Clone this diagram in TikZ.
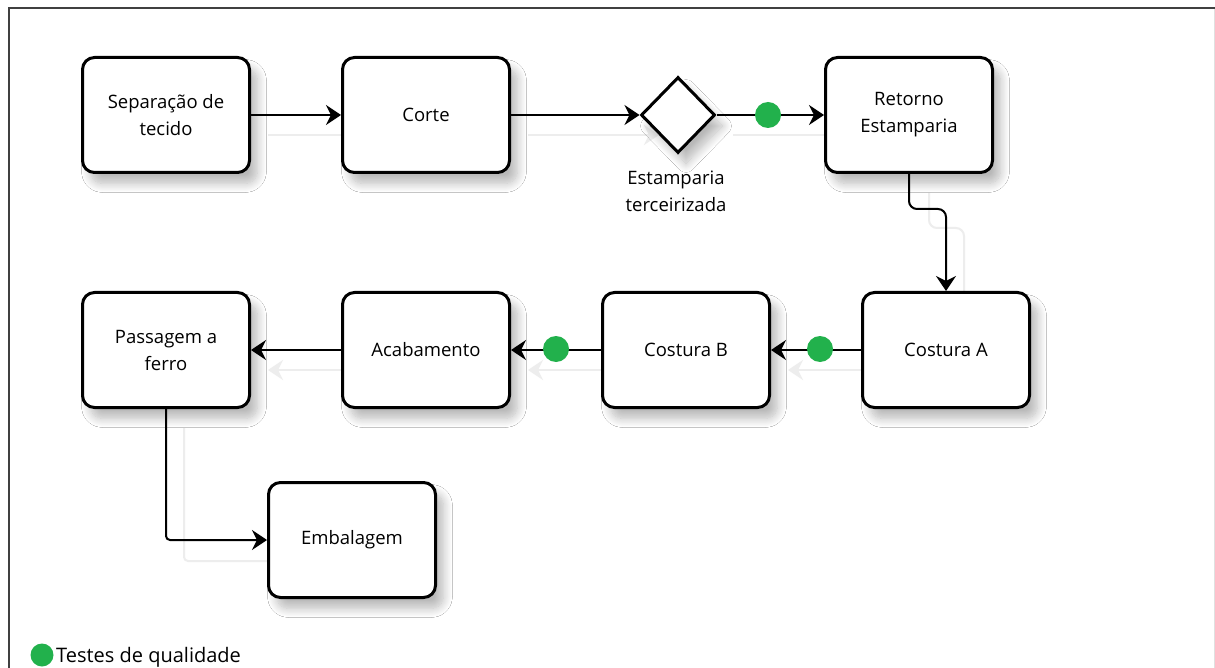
\documentclass[tikz,border=0pt]{standalone}
\usepackage{fontspec}
\setmainfont{Open Sans}
\usetikzlibrary{shapes.geometric,arrows.meta,shadows.blur}
\definecolor{qgreen}{HTML}{22B14C}
\definecolor{ghost}{HTML}{EDEDED}
\tikzset{
  softshadow/.style={blur shadow={shadow xshift=8pt, shadow yshift=-11pt,
      shadow blur radius=9pt, shadow opacity=28, shadow blur steps=12}},
  task/.style={draw=black, line width=3pt, rounded corners=12pt, fill=white,
      minimum width=167pt, minimum height=115pt, inner sep=0pt,
      align=center, font=\fontsize{18.5}{27}\selectfont, softshadow},
  gateway/.style={diamond, draw=black, line width=3pt, fill=white,
      minimum width=74pt, minimum height=76pt, inner sep=0pt, softshadow},
  flow/.style={draw=black, line width=2pt,
      -{Stealth[length=15pt,width=20pt,inset=5pt]}},
  ghostflow/.style={draw=ghost, line width=2pt,
      -{Stealth[length=15pt,width=20pt,inset=5pt]}},
  qdot/.style={circle, fill=qgreen, minimum size=26pt, inner sep=0pt},
  lbl/.style={align=center, font=\fontsize{18.5}{27}\selectfont}
}
\begin{document}
\begin{tikzpicture}[x=1pt,y=-1pt]
\useasboundingbox (0,0) rectangle (1215,668);
\fill[white] (0,0) rectangle (1215,668);

% frame around the diagram
\draw[black!75, line width=2pt] (1215,8) -- (9,8) -- (9,668);
\draw[black!12, line width=1pt] (1214,9) -- (1214,668);

% connector shadows
\draw[ghostflow] (268,135) -- (361,135);
\draw[ghostflow] (528,135) -- (659,135);
\draw[ghostflow] (733,135) -- (844,135);
\draw[ghostflow, rounded corners=8pt] (929,193) -- (929,228) -- (964,228) -- (964,313);
\draw[ghostflow] (881,370) -- (788,370);
\draw[ghostflow] (621,370) -- (528,370);
\draw[ghostflow] (361,370) -- (268,370);
\draw[ghostflow, rounded corners=4pt] (184,428) -- (184,561) -- (286,561);

% process steps
\node[task] (sep) at (166,115) {Separação de\\tecido};
\node[task] (corte) at (426,115) {Corte};
\node[gateway] (gw) at (678,115) {};
\node[lbl, anchor=north] (gwl) at (676,167) {Estamparia\\terceirizada};
\node[task] (ret) at (909,115) {Retorno\\Estamparia};
\node[task] (costa) at (946,350) {Costura A};
\node[task] (costb) at (686,350) {Costura B};
\node[task] (acab) at (426,350) {Acabamento};
\node[task] (pass) at (166,350) {Passagem a\\ferro};
\node[task] (emb) at (352,540) {Embalagem};

% flow connectors
\draw[flow] (sep) -- (corte);
\draw[flow] (corte) -- (gw.west);
\draw[flow] (gw.east) -- (ret);
\draw[flow, rounded corners=8pt] (ret.south) -- ++(0,35) -| (costa.north);
\draw[flow] (costa) -- (costb);
\draw[flow] (costb) -- (acab);
\draw[flow] (acab) -- (pass);
\draw[flow, rounded corners=4pt] (pass.south) |- (emb.west);

% quality checkpoints
\node[qdot] (q1) at (768,115) {};
\node[qdot] (q2) at (820,349) {};
\node[qdot] (q3) at (556,349) {};

% legend
\node[qdot, minimum size=23pt] (lgdot) at (42,655) {};
\node[anchor=west, font=\fontsize{20}{24}\selectfont, inner sep=0pt] (lgtxt) at (56,657) {Testes de qualidade};
\end{tikzpicture}
\end{document}
